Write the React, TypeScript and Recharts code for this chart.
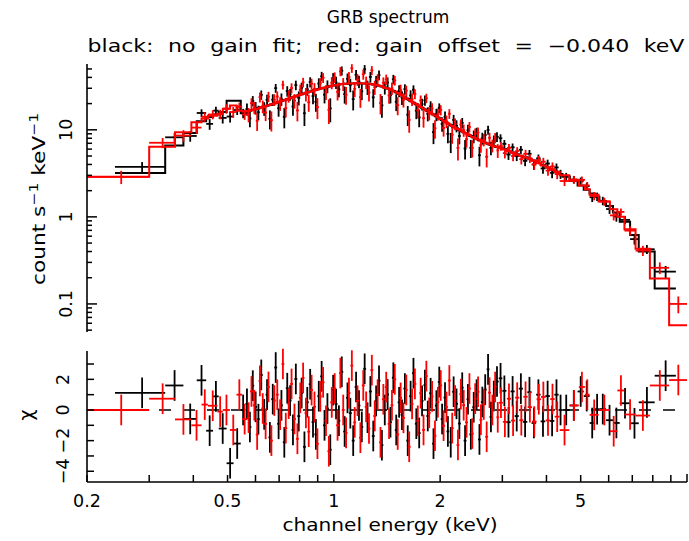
import React from 'react';
import { ComposedChart, Scatter, Line, XAxis, YAxis, ErrorBar, ReferenceLine } from 'recharts';

// black: no gain fit — bin edges (keV), rate, 1-sigma error, folded model
const blackEdges = [
  0.240, 0.333, 0.375, 0.409, 0.435, 0.455, 0.472, 0.497, 0.520, 0.545,
  0.562, 0.573, 0.584, 0.595, 0.606, 0.617, 0.629, 0.641, 0.653, 0.665,
  0.678, 0.691, 0.704, 0.717, 0.731, 0.745, 0.759, 0.773, 0.788, 0.803,
  0.818, 0.833, 0.849, 0.865, 0.881, 0.898, 0.915, 0.932, 0.950, 0.968,
  0.986, 1.005, 1.024, 1.043, 1.063, 1.083, 1.103, 1.124, 1.145, 1.167,
  1.189, 1.211, 1.234, 1.257, 1.281, 1.305, 1.330, 1.355, 1.381, 1.407,
  1.433, 1.460, 1.488, 1.516, 1.545, 1.574, 1.604, 1.634, 1.665, 1.696,
  1.728, 1.761, 1.794, 1.828, 1.862, 1.897, 1.933, 1.970, 2.007, 2.045,
  2.084, 2.123, 2.163, 2.204, 2.246, 2.288, 2.331, 2.375, 2.420, 2.466,
  2.513, 2.560, 2.608, 2.658, 2.708, 2.759, 2.811, 2.864,
  2.930, 3.000, 3.080, 3.165, 3.250, 3.340, 3.430, 3.530, 3.630, 3.740,
  3.850, 3.970, 4.090, 4.210, 4.330, 4.440, 4.660, 4.900, 5.100, 5.300,
  5.480, 5.650, 5.900, 6.170, 6.450, 6.900, 7.300, 8.100, 9.300,
];
const blackRate = [
  3.76, 8.2, 8.5, 15.6, 11.7, 16.6, 13.7, 14.2, 16.9, 15.5,
  17.3, 13.5, 21.5, 17.9, 15.9, 25.2, 17.6, 22.1, 13.4, 22.2,
  30.1, 17.7, 22.5, 14.1, 27.9, 25.5, 18.5, 32.6, 23.3, 30.4,
  15.5, 29.2, 35.4, 24.4, 21.0, 34.0, 41.2, 25.3, 31.6, 17.6,
  39.3, 35.0, 29.2, 47.7, 25.7, 38.5, 32.8, 22.5, 42.9, 35.9,
  27.7, 49.6, 30.9, 40.5, 23.6, 36.0, 42.5, 19.1, 30.6, 34.9,
  25.0, 38.0, 21.0, 28.1, 23.5, 29.3, 14.9, 24.8, 28.9, 16.6,
  13.9, 19.7, 21.8, 15.3, 18.6, 9.4, 15.0, 17.8, 11.7, 14.1,
  9.0, 7.3, 13.0, 11.1, 8.5, 12.0, 6.1, 9.9, 6.2, 8.4,
  9.2, 5.1, 8.0, 8.7, 9.95, 6.2, 7.5, 8.3,
  8.0, 6.9, 5.2, 6.3, 5.0, 5.9, 4.4, 5.3, 4.0, 4.7,
  3.6, 4.1, 3.2, 3.7, 3.1, 2.9, 2.68, 2.59, 2.25, 1.68,
  1.71, 1.53, 1.23, 1.01, 0.924, 0.555, 0.425, 0.235,
];
const blackErr = [
  0.5, 1.0, 1.2, 1.6, 1.7, 1.8, 1.9, 2.1, 2.1, 1.9,
  2.75, 2.8, 2.9, 2.95, 3.0, 3.1, 3.15, 3.2, 3.3, 3.4,
  3.5, 3.55, 3.65, 3.7, 3.8, 3.9, 4.0, 4.1, 4.25, 4.35,
  4.45, 4.55, 4.7, 4.8, 4.9, 5.0, 5.1, 5.2, 5.3, 5.4,
  5.5, 5.6, 5.6, 5.7, 5.7, 5.8, 5.8, 5.8, 5.8, 5.8,
  5.8, 5.8, 5.75, 5.7, 5.65, 5.55, 5.45, 5.35, 5.2, 5.05,
  4.9, 4.75, 4.6, 4.4, 4.2, 4.0, 3.85, 3.65, 3.5, 3.35,
  3.2, 3.05, 2.9, 2.8, 2.65, 2.55, 2.45, 2.3, 2.2, 2.1,
  2.0, 1.9, 1.85, 1.75, 1.7, 1.65, 1.55, 1.5, 1.45, 1.4,
  1.35, 1.3, 1.25, 1.2, 1.15, 1.1, 1.1, 1.05,
  0.87, 0.72, 0.69, 0.66, 0.63, 0.61, 0.58, 0.56, 0.53, 0.5,
  0.47, 0.44, 0.42, 0.40, 0.37, 0.30, 0.27, 0.24, 0.22, 0.20,
  0.19, 0.17, 0.15, 0.13, 0.10, 0.075, 0.05, 0.038,
];
const blackModel = [
  3.2, 6.6, 9.2, 12.5, 14.0, 15.0, 16.0, 21.5, 21.5, 15.5,
  16.2, 16.6, 16.9, 17.3, 17.7, 18.1, 18.5, 18.9, 19.3, 19.8,
  20.4, 20.9, 21.4, 21.9, 22.5, 23.1, 23.7, 24.3, 25.0, 25.6,
  26.2, 26.9, 27.5, 28.2, 28.8, 29.5, 30.0, 30.5, 31.1, 31.6,
  32.2, 32.8, 33.1, 33.5, 33.7, 33.9, 34.0, 34.1, 34.2, 34.2,
  34.1, 34.0, 33.8, 33.6, 33.2, 32.7, 32.1, 31.4, 30.6, 29.8,
  28.9, 28.0, 27.0, 25.9, 24.8, 23.7, 22.6, 21.5, 20.5, 19.6,
  18.7, 17.9, 17.1, 16.4, 15.7, 15.0, 14.3, 13.6, 13.0, 12.4,
  11.8, 11.3, 10.8, 10.4, 10.0, 9.6, 9.2, 8.85, 8.5, 8.15,
  7.85, 7.6, 7.35, 7.1, 6.9, 6.7, 6.5, 6.35,
  6.2, 6.0, 5.75, 5.5, 5.25, 5.05, 4.85, 4.65, 4.45, 4.2,
  3.95, 3.7, 3.5, 3.3, 3.1, 2.9, 2.6, 2.3, 2.05, 1.85,
  1.7, 1.52, 1.33, 1.12, 0.88, 0.62, 0.40, 0.15,
];

// red: gain offset = -0.040 keV
const redEdges = [
  0.200, 0.300, 0.355, 0.395, 0.422, 0.440, 0.468, 0.485, 0.508, 0.530, 0.550,
  0.568, 0.579, 0.590, 0.601, 0.612, 0.623, 0.635, 0.647, 0.659, 0.672,
  0.685, 0.698, 0.711, 0.724, 0.738, 0.752, 0.766, 0.781, 0.796, 0.811,
  0.826, 0.841, 0.857, 0.873, 0.890, 0.907, 0.924, 0.941, 0.959, 0.977,
  0.996, 1.015, 1.034, 1.053, 1.073, 1.093, 1.114, 1.135, 1.156, 1.178,
  1.200, 1.223, 1.246, 1.269, 1.293, 1.318, 1.343, 1.368, 1.394, 1.420,
  1.447, 1.474, 1.502, 1.531, 1.560, 1.589, 1.619, 1.650, 1.681, 1.712,
  1.745, 1.778, 1.811, 1.845, 1.880, 1.915, 1.952, 1.989, 2.026, 2.065,
  2.104, 2.143, 2.184, 2.225, 2.267, 2.310, 2.353, 2.398, 2.443, 2.490,
  2.537, 2.584, 2.633, 2.683, 2.734, 2.785, 2.838, 2.887,
  2.936, 3.010, 3.090, 3.175, 3.260, 3.350, 3.440, 3.540, 3.640, 3.750,
  3.860, 3.980, 4.100, 4.220, 4.360, 4.640, 4.940, 5.140, 5.300, 5.620,
  6.050, 6.350, 6.650, 7.150, 7.850, 8.900, 10.00,
];
const redRate = [
  2.88, 7.1, 8.6, 10.6, 14.1, 15.0, 15.1, 17.5, 16.0, 18.5, 15.0,
  15.0, 20.2, 18.0, 12.7, 23.7, 18.6, 15.8, 24.0, 12.9, 22.2,
  24.1, 20.1, 32.8, 17.7, 24.4, 30.2, 21.6, 16.7, 28.7, 35.1,
  25.7, 20.7, 33.9, 29.5, 18.2, 34.2, 39.6, 27.2, 17.0, 34.7,
  40.2, 27.3, 46.9, 33.6, 25.2, 40.4, 50.9, 29.5, 37.7, 23.7,
  43.4, 35.1, 26.8, 48.2, 30.8, 37.9, 20.4, 34.7, 37.9, 24.9,
  30.0, 36.9, 19.2, 28.7, 22.1, 28.2, 13.0, 22.4, 25.9, 16.8,
  21.7, 13.6, 23.1, 15.5, 17.6, 10.4, 15.1, 16.9, 10.5, 12.5,
  15.3, 8.8, 11.7, 6.2, 11.5, 9.9, 7.8, 10.8, 6.2, 9.0,
  9.3, 6.7, 7.7, 4.9, 8.1, 6.6, 8.1, 5.8,
  6.5, 5.4, 6.2, 5.0, 5.7, 4.6, 5.3, 4.7, 4.0, 4.5,
  4.3, 3.4, 3.8, 3.1, 2.58, 2.68, 2.66, 2.3, 1.74, 1.5,
  1.04, 1.14, 0.695, 0.41, 0.26, 0.1,
];
const redErr = [
  0.5, 0.95, 1.3, 1.6, 1.7, 1.8, 1.9, 2.2, 2.3, 2.0, 2.0,
  2.8, 2.85, 2.9, 3.0, 3.05, 3.1, 3.2, 3.25, 3.35, 3.4,
  3.5, 3.6, 3.7, 3.8, 3.9, 4.0, 4.1, 4.2, 4.3, 4.4,
  4.5, 4.6, 4.7, 4.85, 4.95, 5.05, 5.15, 5.25, 5.35, 5.45,
  5.5, 5.6, 5.65, 5.7, 5.75, 5.8, 5.8, 5.8, 5.8, 5.8,
  5.8, 5.75, 5.7, 5.7, 5.6, 5.5, 5.4, 5.3, 5.15, 5.0,
  4.85, 4.7, 4.5, 4.3, 4.1, 3.9, 3.75, 3.6, 3.4, 3.25,
  3.1, 3.0, 2.85, 2.7, 2.6, 2.5, 2.35, 2.25, 2.15, 2.05,
  1.95, 1.9, 1.8, 1.75, 1.65, 1.6, 1.55, 1.5, 1.4, 1.35,
  1.3, 1.25, 1.25, 1.2, 1.15, 1.1, 1.1, 1.05,
  0.74, 0.71, 0.68, 0.65, 0.62, 0.60, 0.58, 0.55, 0.53, 0.50,
  0.47, 0.44, 0.42, 0.39, 0.32, 0.27, 0.24, 0.22, 0.19, 0.16,
  0.13, 0.11, 0.085, 0.055, 0.04, 0.022,
];
const redModel = [
  2.88, 6.4, 9.4, 12.2, 13.5, 14.5, 15.3, 17.5, 19.0, 16.5, 16.2,
  16.4, 16.75, 17.1, 17.5, 17.9, 18.3, 18.7, 19.1, 19.6, 20.1,
  20.6, 21.2, 21.7, 22.2, 22.8, 23.4, 24.0, 24.6, 25.3, 25.9,
  26.6, 27.2, 27.8, 28.5, 29.1, 29.7, 30.3, 30.9, 31.4, 32.0,
  32.5, 32.9, 33.3, 33.6, 33.8, 34.0, 34.1, 34.2, 34.2, 34.2,
  34.1, 33.9, 33.7, 33.4, 33.0, 32.4, 31.8, 31.0, 30.2, 29.4,
  28.5, 27.5, 26.4, 25.3, 24.2, 23.1, 22.0, 21.0, 20.1, 19.1,
  18.3, 17.5, 16.8, 16.0, 15.3, 14.6, 13.9, 13.3, 12.7, 12.1,
  11.55, 11.05, 10.6, 10.2, 9.8, 9.4, 9.05, 8.7, 8.35, 8.0,
  7.75, 7.5, 7.25, 7.0, 6.8, 6.6, 6.45, 6.3,
  6.15, 5.95, 5.7, 5.45, 5.2, 5.0, 4.8, 4.6, 4.4, 4.15,
  3.9, 3.7, 3.5, 3.27, 3.0, 2.6, 2.3, 2.08, 1.8, 1.5,
  1.22, 1.0, 0.72, 0.43, 0.196, 0.057,
];

// axis ticks
const xTicks = [0.2, 0.3, 0.4, 0.5, 0.6, 0.7, 0.8, 0.9, 1, 2, 3, 4, 5, 6, 7, 8, 9, 10];
const xMajor = [1, 10];
const xLabels: Record<string, string> = { '0.2': '0.2', '0.5': '0.5', '1': '1', '2': '2', '5': '5' };
const yTicksTop = [
  0.05, 0.06, 0.07, 0.08, 0.09, 0.1, 0.2, 0.3, 0.4, 0.5, 0.6, 0.7, 0.8, 0.9,
  1, 2, 3, 4, 5, 6, 7, 8, 9, 10, 20, 30, 40, 50,
];
const yMajorTop = [0.1, 1, 10];
const yLabelsTop: Record<string, string> = { '0.1': '0.1', '1': '1', '10': '10' };
const yTicksRes = [-4, -3, -2, -1, 0, 1, 2, 3];
const yLabelsRes: Record<string, string> = { '2': '2', '0': '0', '-2': '\u22122', '-4': '\u22124' };

const W = 689;
const FONT = '"DejaVu Sans", sans-serif';
const INK = '#000';
const RED = '#ff0000';
const BAR = 1.8;

function points(edges: number[], vals: number[], errs: number[]) {
  return vals.map((v, i) => {
    const lo = edges[i];
    const hi = edges[i + 1];
    const c = (lo + hi) / 2;
    return { x: c, y: v, ex: [c - lo, hi - c], ey: [errs[i], errs[i]] };
  });
}

// residuals: (data - model) / error, error bars of +-1
function resid(edges: number[], rate: number[], errs: number[], model: number[]) {
  const chi = rate.map((r, i) => (r - model[i]) / errs[i]);
  return points(edges, chi, chi.map(() => 1));
}

function steps(edges: number[], model: number[]) {
  return edges.map((e, i) => ({ x: e, y: model[Math.min(i, model.length - 1)] }));
}

const blackTop = points(blackEdges, blackRate, blackErr);
const redTop = points(redEdges, redRate, redErr);
const blackRes = resid(blackEdges, blackRate, blackErr, blackModel);
const redRes = resid(redEdges, redRate, redErr, redModel);
const blackStep = steps(blackEdges, blackModel);
const redStep = steps(redEdges, redModel);

const noShape = () => <g />;

const XTick = (p: any) => {
  const v = p.payload.value;
  const len = xMajor.includes(v) ? p.big : p.small;
  const lab = p.labels ? xLabels[String(v)] : undefined;
  return (
    <g>
      <line x1={p.x} x2={p.x} y1={p.y} y2={p.y + p.dir * len} stroke={INK} strokeWidth={1.5} />
      {lab && (
        <text x={p.x} y={p.y + 25} textAnchor="middle" fontFamily={FONT} fontSize={17.5} fill={INK}>
          {lab}
        </text>
      )}
    </g>
  );
};

const YTick = (p: any) => {
  const v = p.payload.value;
  const len = p.major.includes(v) ? p.big : p.small;
  const lab = p.labels ? p.labels[String(v)] : undefined;
  return (
    <g>
      <line x1={p.x} x2={p.x + p.dir * len} y1={p.y} y2={p.y} stroke={INK} strokeWidth={1.5} />
      {lab && (
        <text
          transform={`translate(${p.x - p.off},${p.y}) rotate(-90)`}
          textAnchor="middle"
          fontFamily={FONT}
          fontSize={17.5}
          fill={INK}
        >
          {lab}
        </text>
      )}
    </g>
  );
};

const frame = { stroke: INK, strokeWidth: 1.6 };

export default function App() {
  return (
    <div style={{ position: 'absolute', left: 0, top: 0, width: W, height: 541, background: '#fff' }}>
      <div style={{ position: 'absolute', left: 0, top: 0 }}>
        <ComposedChart width={W} height={340} margin={{ top: 64, right: 2, bottom: 8, left: 0 }}>
          <XAxis xAxisId="b" dataKey="x" type="number" scale="log" domain={[0.2, 10]} allowDataOverflow
            ticks={xTicks} interval={0} height={0} tickSize={0} tickMargin={0} tickLine={false} axisLine={frame}
            tick={(p: any) => <XTick {...p} dir={-1} big={10} small={5} />} />
          <XAxis xAxisId="t" orientation="top" dataKey="x" type="number" scale="log" domain={[0.2, 10]} allowDataOverflow
            ticks={xTicks} interval={0} height={0} tickSize={0} tickMargin={0} tickLine={false} axisLine={frame}
            tick={(p: any) => <XTick {...p} dir={1} big={10} small={5} />} />
          <YAxis yAxisId="l" dataKey="y" type="number" scale="log" domain={[0.0476, 57]} allowDataOverflow
            ticks={yTicksTop} interval={0} width={87} tickSize={0} tickMargin={0} tickLine={false} axisLine={frame}
            tick={(p: any) => <YTick {...p} dir={1} big={10} small={5} major={yMajorTop} labels={yLabelsTop} off={15} />} />
          <YAxis yAxisId="r" orientation="right" dataKey="y" type="number" scale="log" domain={[0.0476, 57]} allowDataOverflow
            ticks={yTicksTop} interval={0} width={0} tickSize={0} tickMargin={0} tickLine={false} axisLine={frame}
            tick={(p: any) => <YTick {...p} dir={-1} big={10} small={5} major={yMajorTop} />} />
          <Scatter data={blackTop} xAxisId="b" yAxisId="l" shape={noShape} isAnimationActive={false}>
            <ErrorBar dataKey="ex" direction="x" width={0} stroke={INK} strokeWidth={BAR} isAnimationActive={false} />
            <ErrorBar dataKey="ey" direction="y" width={0} stroke={INK} strokeWidth={BAR} isAnimationActive={false} />
          </Scatter>
          <Line data={blackStep} dataKey="y" xAxisId="b" yAxisId="l" type="stepAfter" stroke={INK} strokeWidth={2}
            dot={false} activeDot={false} isAnimationActive={false} />
          <Scatter data={redTop} xAxisId="b" yAxisId="l" shape={noShape} isAnimationActive={false}>
            <ErrorBar dataKey="ex" direction="x" width={0} stroke={RED} strokeWidth={BAR} isAnimationActive={false} />
            <ErrorBar dataKey="ey" direction="y" width={0} stroke={RED} strokeWidth={BAR} isAnimationActive={false} />
          </Scatter>
          <Line data={redStep} dataKey="y" xAxisId="b" yAxisId="l" type="stepAfter" stroke={RED} strokeWidth={2}
            dot={false} activeDot={false} isAnimationActive={false} />
        </ComposedChart>
      </div>
      <div style={{ position: 'absolute', left: 0, top: 340 }}>
        <ComposedChart width={W} height={201} margin={{ top: 11, right: 2, bottom: 0, left: 0 }}>
          <XAxis xAxisId="b" dataKey="x" type="number" scale="log" domain={[0.2, 10]} allowDataOverflow
            ticks={xTicks} interval={0} height={59} tickSize={0} tickMargin={0} tickLine={false} axisLine={frame}
            tick={(p: any) => <XTick {...p} dir={-1} big={8} small={7} labels />} />
          <XAxis xAxisId="t" orientation="top" dataKey="x" type="number" scale="log" domain={[0.2, 10]} allowDataOverflow
            ticks={xTicks} interval={0} height={0} tickSize={0} tickMargin={0} tickLine={false} axisLine={frame}
            tick={(p: any) => <XTick {...p} dir={1} big={8} small={7} />} />
          <YAxis yAxisId="l" dataKey="y" type="number" domain={[-4.7, 3.85]} allowDataOverflow
            ticks={yTicksRes} interval={0} width={87} tickSize={0} tickMargin={0} tickLine={false} axisLine={frame}
            tick={(p: any) => <YTick {...p} dir={1} big={7} small={7} major={[]} labels={yLabelsRes} off={18} />} />
          <YAxis yAxisId="r" orientation="right" dataKey="y" type="number" domain={[-4.7, 3.85]} allowDataOverflow
            ticks={yTicksRes} interval={0} width={0} tickSize={0} tickMargin={0} tickLine={false} axisLine={frame}
            tick={(p: any) => <YTick {...p} dir={-1} big={7} small={7} major={[]} />} />
          <ReferenceLine y={0} xAxisId="b" yAxisId="l" stroke={INK} strokeWidth={1.5} strokeDasharray="12 12" />
          <Scatter data={blackRes} xAxisId="b" yAxisId="l" shape={noShape} isAnimationActive={false}>
            <ErrorBar dataKey="ex" direction="x" width={0} stroke={INK} strokeWidth={BAR} isAnimationActive={false} />
            <ErrorBar dataKey="ey" direction="y" width={0} stroke={INK} strokeWidth={BAR} isAnimationActive={false} />
          </Scatter>
          <Scatter data={redRes} xAxisId="b" yAxisId="l" shape={noShape} isAnimationActive={false}>
            <ErrorBar dataKey="ex" direction="x" width={0} stroke={RED} strokeWidth={BAR} isAnimationActive={false} />
            <ErrorBar dataKey="ey" direction="y" width={0} stroke={RED} strokeWidth={BAR} isAnimationActive={false} />
          </Scatter>
        </ComposedChart>
      </div>
      <svg width={W} height={541} style={{ position: 'absolute', left: 0, top: 0, pointerEvents: 'none' }}>
        <g fontFamily={FONT} fill={INK}>
          <text x={388} y={23} textAnchor="middle" fontSize={17}>GRB spectrum</text>
          <text x={386} y={52} textAnchor="middle" fontSize={17.5} wordSpacing={6}
            textLength={597} lengthAdjust="spacingAndGlyphs">
            black: no gain fit; red: gain offset = {'\u2212'}0.040 keV
          </text>
          <text transform="translate(45,199) rotate(-90)" textAnchor="middle" fontSize={17.5}
            textLength={172} lengthAdjust="spacingAndGlyphs">
            count s<tspan dy={-7} fontSize={12.5}>{'\u2212'}1</tspan>
            <tspan dy={7}> keV</tspan>
            <tspan dy={-7} fontSize={12.5}>{'\u2212'}1</tspan>
          </text>
          <text transform="translate(33,415) rotate(-90)" textAnchor="middle" fontSize={19}>{'\u03c7'}</text>
          <text x={390} y={531} textAnchor="middle" fontSize={17.5} textLength={215} lengthAdjust="spacingAndGlyphs">
            channel energy (keV)
          </text>
        </g>
      </svg>
    </div>
  );
}
